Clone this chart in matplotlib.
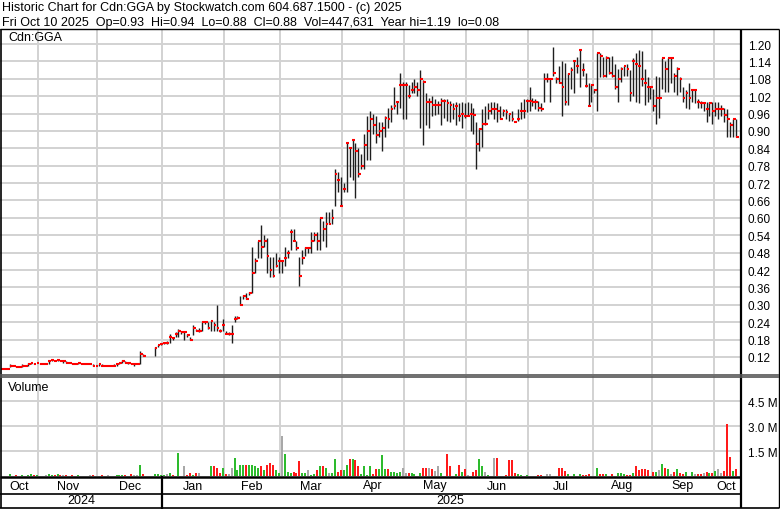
import numpy as np
import pandas as pd
import matplotlib
matplotlib.use("Agg")
import matplotlib.pyplot as plt
from matplotlib.lines import Line2D
from matplotlib.transforms import blended_transform_factory

plt.rcParams['font.family'] = ['Liberation Sans', 'DejaVu Sans']

nan = float('nan')

# ---------------- data ----------------
holidays = ['2024-11-11', '2025-01-01', '2025-01-09', '2025-02-17', '2025-04-18',
            '2025-05-19', '2025-07-01', '2025-08-04', '2025-09-01']

close = [
    # Oct 2024
    .08, .08, .08, .09, .09, .085, .085, .09, .09, .095, .10, .095, .10,
    # Nov
    .095, .095, .095, .105, .11, .105, .11, .105, .105, .10, .10, .095, .095, .10, .095, .095, .095, .095, .09, .09,
    # Dec
    .095, .09, .09, .09, .09, .09, .095, .10, .105, .10, .10, .095, .095, .095, .13, .125, nan, nan, nan, .15, .16, .165,
    # Jan 2025
    .17, .17, .19, .185, .20, .21, .205, .205, .195, .18, .22, .21, .21, .24, .24, .22, .245, .23, .22, .21, .23,
    # Feb
    .20, .20, .20, .25, .255, .30, .33, .32, .34, .41, .45, .52, .50, .52, .47, .42, .40, .435, .45,
    # Mar
    .45, .46, .48, .55, .52, .495, .40, .46, .495, .495, .52, .54, .52, .60, .56, .58, .58, .60, .75, .73, .64,
    # Apr
    .70, .86, .84, .87, .83, .75, .78, .85, .90, .94, .92, .885, .90, .91, .945, .94, .975, .985, 1.00, 1.06, 1.06,
    # May
    1.06, 1.02, 1.04, 1.05, 1.04, 1.08, 1.07, 1.00, 1.00, .99, .99, .99, 1.005, 1.005, .995, .99, .975, .985, .95, .96, .95,
    # Jun
    .95, .96, .955, .855, .905, .925, .925, .97, .975, .975, .97, .94, .97, .965, .96, .94, .93, .94, .97, .97, 1.005,
    # Jul
    1.005, 1.00, 1.00, .98, .975, 1.08, 1.08, 1.08, 1.10, 1.08, 1.065, 1.05, 1.00, 1.095, 1.11, 1.14, 1.125, 1.18, 1.11, 1.055, .985, 1.06,
    # Aug
    1.04, 1.17, 1.16, 1.09, 1.15, 1.10, 1.09, 1.05, 1.08, 1.115, 1.125, 1.115, 1.03, 1.14, 1.13, 1.125, 1.08, 1.065, 1.05, 1.05,
    # Sep
    .985, 1.015, 1.015, 1.15, 1.115, 1.15, 1.15, 1.09, 1.115, 1.08, 1.015, 1.03, 1.015, 1.04, 1.04, 1.00, .995, .995, .975, .995, .97,
    # Oct
    .975, .975, .975, .955, .94, .92, .94, .88,
]

high = [
    .08, .08, .08, .095, .09, .09, .085, .095, .09, .10, .10, .10, .10,
    .10, .095, .095, .11, .11, .11, .11, .11, .105, .105, .10, .10, .095, .10, .10, .095, .095, .095, .095, .09,
    .095, .095, .09, .09, .09, .095, .095, .10, .11, .105, .10, .10, .10, .095, .14, .13, nan, nan, nan, .155, .16, .17,
    .17, .175, .20, .19, .205, .215, .21, .21, .20, .19, .23, .215, .22, .24, .245, .24, .245, .24, .30, .215, .25,
    .21, .205, .23, .26, .26, .33, .335, .34, .345, .50, .46, .52, .575, .54, .53, .465, .465, .48, .465,
    .45, .50, .49, .56, .56, .52, .465, .49, .50, .50, .55, .55, .55, .60, .59, .62, .62, .63, .77, .76, .74,
    .72, .86, .84, .87, .86, .84, .82, .89, .95, .97, .96, .95, .93, .93, .95, .98, .99, 1.05, 1.00, 1.10, 1.07,
    1.07, 1.06, 1.07, 1.08, 1.07, 1.11, 1.075, 1.03, 1.015, 1.02, 1.01, 1.005, 1.015, 1.01, 1.01, 1.005, .995, 1.00, .995, 1.00, .995,
    1.00, .995, .98, .93, .91, .975, .985, .995, 1.00, 1.00, .995, .985, .975, .975, .96, .97, .93, .975, 1.00, 1.01, 1.01,
    1.05, 1.015, 1.01, 1.005, .995, 1.10, 1.10, 1.08, 1.19, 1.085, 1.125, 1.14, 1.135, 1.10, 1.12, 1.14, 1.155, 1.18, 1.135, 1.10, 1.065, 1.06,
    1.045, 1.17, 1.17, 1.155, 1.16, 1.155, 1.16, 1.13, 1.115, 1.12, 1.125, 1.13, 1.11, 1.15, 1.17, 1.18, 1.175, 1.115, 1.085, 1.055,
    1.045, 1.09, 1.085, 1.15, 1.14, 1.15, 1.15, 1.10, 1.12, 1.085, 1.05, 1.04, 1.065, 1.045, 1.045, 1.01, 1.005, 1.00, 1.00, 1.00, 1.00,
    1.00, 1.00, .99, .98, .975, .93, .94, .94,
]

low = [
    .08, .08, .08, .085, .09, .085, .085, .085, .09, .09, .095, .095, .10,
    .095, .095, .095, .095, .105, .105, .105, .105, .10, .10, .10, .095, .095, .095, .095, .095, .095, .095, .09, .09,
    .09, .09, .09, .09, .09, .09, .09, .095, .10, .10, .095, .095, .09, .095, .095, .125, nan, nan, nan, .125, .155, .16,
    .165, .165, .17, .18, .19, .19, .20, .18, .19, .18, .195, .21, .205, .21, .235, .215, .21, .21, .21, .205, .21,
    .20, .195, .17, .24, .25, .30, .32, .32, .335, .34, .41, .46, .46, .50, .41, .395, .395, .43, .41,
    .41, .435, .46, .49, .52, .49, .365, .44, .47, .48, .48, .52, .49, .49, .52, .50, .58, .58, .64, .69, .64,
    .69, .69, .74, .73, .67, .74, .77, .77, .80, .80, .89, .86, .88, .83, .88, .91, .93, .975, .96, .98, .94,
    .94, 1.015, 1.03, 1.03, 1.02, .91, .85, .92, .91, .95, .955, .96, .92, .945, .935, .93, .94, .92, .935, .91, .945,
    .95, .90, .89, .77, .83, .845, .92, .94, .96, .94, .93, .94, .95, .94, .935, .935, .93, .935, .94, .945, .965,
    .97, .985, .975, .97, .97, 1.00, 1.07, 1.00, 1.09, 1.065, 1.065, .95, .99, .99, 1.045, 1.03, 1.10, 1.05, 1.09, 1.05, .985, 1.00,
    1.03, .97, 1.085, 1.085, 1.085, 1.095, 1.085, 1.045, 1.00, 1.07, 1.09, 1.09, 1.005, 1.02, 1.00, .995, 1.055, .99, 1.00, 1.01,
    .97, .925, .945, 1.045, 1.035, 1.035, 1.065, 1.035, 1.025, 1.035, 1.00, .98, .975, 1.00, .995, .98, .98, .97, .93, .95, .925,
    .95, .94, .95, .93, .88, .88, .88, .88,
]

volume_m = [  # millions of shares
    .03, .0, .02, .10, .03, .05, .0, .08, .03, .08, .10, .04, .06,
    .03, .0, .05, .12, .08, .05, .10, .06, .04, .05, .03, .05, .02, .04, .03, .0, .03, .04, .05, .03,
    .03, .05, .02, .04, .03, .03, .05, .06, .08, .04, .03, .10, .08, .05, .68, .10, 0, 0, 0, .10, .10, .06,
    .06, .10, .16, .06, .03, 1.40, .03, .62, .06, .16, .06, .16, .16, .03, .03, .03, .58, .62, .47, .20, .47,
    .10, .10, .47, 1.09, .37, .68, .68, .68, .68, .68, .58, .47, .58, .37, .68, .78, .68, .37, .16,
    2.43, 1.34, .27, .20, .27, .16, .88, .20, .20, .37, .06, .10, .37, .58, .58, .47, .16, .16, 1.03, .27, .37,
    .37, .68, 1.03, 1.03, .99, .58, .10, .58, .06, .62, .10, .41, .41, 1.26, .43, .43, .27, .22, .16, .27, .47,
    .20, .20, .20, .10, .03, .20, .47, .47, .47, .41, .31, .62, .16, .03, 1.34, .58, .03, .10, .68, .27, .41,
    .06, .03, .27, .37, 1.03, .58, .27, .06, .03, 1.09, 1.09, .03, .03, .06, .99, .99, .16, .10, .06, .03, .06,
    .03, .03, .03, .06, .06, .03, .10, .10, .03, .03, .51, .47, .31, .10, .03, .10, .03, .10, .06, .06, .10, .03,
    .03, .51, .10, .10, .10, .03, .10, .03, .20, .20, .10, .06, .06, .20, .58, .37, .41, .41, .37, .03,
    .27, .27, .37, .72, .51, .41, .10, .27, .43, .20, .10, .27, .03, .27, .10, .10, .10, .20, .27, .20, .20,
    .31, .41, .20, .31, 3.15, 1.15, .31, .447631,
]

price_ticks = ['0.12', '0.18', '0.24', '0.30', '0.36', '0.42', '0.48', '0.54', '0.60', '0.66',
               '0.72', '0.78', '0.84', '0.90', '0.96', '1.02', '1.08', '1.14', '1.20']
volume_ticks = ['1.5 M', '3.0 M', '4.5 M']
title1 = 'Historic Chart for Cdn:GGA by Stockwatch.com 604.687.1500 - (c) 2025'
title2 = 'Fri Oct 10 2025  Op=0.93  Hi=0.94  Lo=0.88  Cl=0.88  Vol=447,631  Year hi=1.19  lo=0.08'

# ---------------- build ----------------
dates = pd.bdate_range('2024-10-15', '2025-10-10')
dates = dates[~dates.isin(pd.to_datetime(holidays))]
N = len(dates)
x = np.arange(N)
close_a = np.array(close, dtype=float)
high_a = np.array(high, dtype=float)
low_a = np.array(low, dtype=float)
vol_a = np.array(volume_m, dtype=float) * 1e6

# volume colours from close-to-close change
vcol = []
prev = np.nan
for c in close_a:
    if np.isnan(c):
        vcol.append('#a8a8a8')
        continue
    if np.isnan(prev) or abs(c - prev) < 1e-9:
        vcol.append('#a8a8a8')
    elif c > prev:
        vcol.append('#2dbb2d')
    else:
        vcol.append('#ff1a1a')
    prev = c

W, H = 780, 510
fig = plt.figure(figsize=(W / 100, H / 100), dpi=100)
fig.patch.set_facecolor('white')


def fx(px):
    return px / W


def fy(py):
    return 1 - py / H


def add_ax(x0, y0, x1, y1):
    return fig.add_axes([fx(x0), fy(y1), fx(x1) - fx(x0), fy(y0) - fy(y1)])


def line(x0, y0, x1, y1, lw=1.0, color='black'):
    fig.add_artist(Line2D([fx(x0), fx(x1)], [fy(y0), fy(y1)], transform=fig.transFigure,
                          lw=lw, color=color, solid_capstyle='butt'))


PX_PER_DAY = 2.95
PLOT_R = 741
xlim = (-0.5, -0.5 + PLOT_R / PX_PER_DAY)

ax_p = add_ax(0, 30, PLOT_R, 375)
ax_v = add_ax(0, 377, PLOT_R, 477)

# price axis
pt = [float(t) for t in price_ticks]
ax_p.set_xlim(*xlim)
ax_p.set_ylim(0.12 - 17 / 289.8, 1.20 + 15 / 289.8)
for a in (ax_p, ax_v):
    for s in a.spines.values():
        s.set_visible(False)
    a.set_xticks([])
    a.tick_params(axis='y', length=0, labelsize=8.5, pad=5)
    a.yaxis.tick_right()

grid_c = '#d2d2d2'
month_starts = [i for i in range(1, N) if dates[i].month != dates[i - 1].month]
for a in (ax_p, ax_v):
    for b in month_starts:
        a.axvline(b - 0.5, color=grid_c, lw=1.4, zorder=0)

for p in pt:
    ax_p.axhline(p, color=grid_c, lw=1.4, zorder=0)
ax_p.set_yticks(pt)
ax_p.set_yticklabels(price_ticks)

ax_p.vlines(x, low_a, high_a, color='#1e1e1e', lw=1.0, zorder=2)
ax_p.hlines(close_a, x - 0.1, x + 0.85, color='#ff0000', lw=1.5, zorder=3)
fig.text(fx(8), fy(38), 'Cdn:GGA', fontsize=9, va='center', ha='left')

# volume axis
vt = [float(t.split()[0]) * 1e6 for t in volume_ticks]
ax_v.set_xlim(*xlim)
ax_v.set_ylim(0, 100 / 16.6 * 1e6)
for v in vt:
    ax_v.axhline(v, color=grid_c, lw=1.4, zorder=0)
ax_v.set_yticks(vt)
ax_v.set_yticklabels(volume_ticks)
ax_v.bar(x, vol_a, width=0.68, color=vcol, linewidth=0, zorder=2)
fig.text(fx(8), fy(388), 'Volume', fontsize=9, va='center', ha='left')

# header
fig.text(fx(2), fy(8), title1, fontsize=9, va='center', ha='left')
fig.text(fx(2), fy(23), title2, fontsize=9, va='center', ha='left')

# frame lines
line(0, 30, 779, 30, lw=1.0)
line(0.5, 30, 0.5, 509, lw=1.2)
line(741, 30, 741, 509, lw=1.6)
line(778.5, 30, 778.5, 509, lw=1.0)
line(0, 375.5, 779, 375.5, lw=1.2, color='#555555')
line(0, 377.8, 779, 377.8, lw=1.2, color='#555555')
line(0, 478.3, 741, 478.3, lw=1.8)
line(0, 494.5, 741, 494.5, lw=1.2)
line(0, 508.5, 779, 508.5, lw=1.2)

# month labels and year row
tr = blended_transform_factory(ax_v.transData, fig.transFigure)
groups = pd.Series(x).groupby([dates.year, dates.month])
for (yr, mo), idx in groups:
    cx = (idx.iloc[0] + idx.iloc[-1]) / 2
    ax_v.text(cx, fy(486.5), dates[idx.iloc[0]].strftime('%b'), transform=tr,
              ha='center', va='center', fontsize=9, clip_on=False)
year_groups = pd.Series(x).groupby(dates.year)
for yr, idx in year_groups:
    cx = (idx.iloc[0] + idx.iloc[-1]) / 2
    ax_v.text(cx, fy(501.5), str(yr), transform=tr, ha='center', va='center',
              fontsize=9, clip_on=False)
    if idx.iloc[0] > 0:
        bx = idx.iloc[0] - 0.5
        ax_v.plot([bx, bx], [fy(478.3), fy(509)], transform=tr, color='black',
                  lw=1.6, clip_on=False)

fig.savefig('out.png', dpi=100, facecolor='white')
